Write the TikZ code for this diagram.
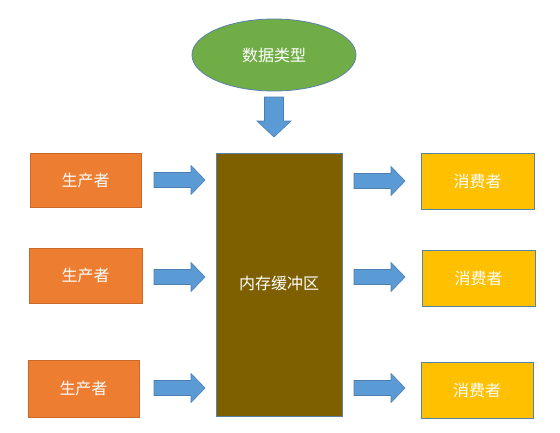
\documentclass[tikz,border=0pt]{standalone}
\usepackage{fontspec}
\newfontfamily\cjk{Noto Sans CJK SC}
\usetikzlibrary{shapes.geometric}
\definecolor{prodfill}{HTML}{ED7D31}
\definecolor{prodline}{HTML}{C8692A}
\definecolor{consfill}{HTML}{FFC000}
\definecolor{blueline}{HTML}{5A82A8}
\definecolor{buffill}{HTML}{7F6000}
\definecolor{ellfill}{HTML}{70AD47}
\definecolor{arrfill}{HTML}{5B9BD5}
\definecolor{arrline}{HTML}{4A7FB0}
\newcommand{\rblockarrow}[3]{%
  \draw[blockarrow] (#2,#3-7.5) -- (#2+37,#3-7.5) -- (#2+37,#3-14.5) -- (#2+51,#3) -- (#2+37,#3+14.5) -- (#2+37,#3+7.5) -- (#2,#3+7.5) -- cycle;
  \coordinate (#1) at (#2+25.5,#3);}
\begin{document}
\begin{tikzpicture}[x=1pt,y=-1pt,
  txt/.style={text=white,font=\cjk\fontsize{16}{19}\selectfont},
  prodbox/.style={txt,draw=prodline,fill=prodfill,line width=0.8pt},
  consbox/.style={txt,draw=blueline,fill=consfill,line width=0.8pt},
  blockarrow/.style={draw=arrline,fill=arrfill,line width=0.6pt}]
\useasboundingbox (0,0) rectangle (560,432);
\fill[white] (0,0) rectangle (560,432);
% ellipse
\node[ellipse,draw=blueline,fill=ellfill,line width=0.8pt,minimum width=164pt,minimum height=72pt,inner sep=0pt,txt] (dtype) at (274,55) {数据类型};
% down arrow
\draw[blockarrow] (264.5,97) -- (283.5,97) -- (283.5,121) -- (291,121) -- (274,137) -- (257,121) -- (264.5,121) -- cycle;
\coordinate (down) at (274,117);
% buffer
\path[draw=blueline,fill=buffill,line width=0.8pt] (216,153) rectangle (342,416);
\node[txt] (buf) at (279,283) {内存缓冲区};
% producers
\draw[prodbox] (30,153) rectangle (141,207);
\node[txt] (p1) at (85.5,180) {生产者};
\draw[prodbox] (29,248) rectangle (142,303);
\node[txt] (p2) at (85.5,275.5) {生产者};
\draw[prodbox] (28,360) rectangle (139,417);
\node[txt] (p3) at (83.5,388.5) {生产者};
% consumers
\draw[consbox] (421,153) rectangle (534,209);
\node[txt] (c1) at (477.5,181) {消费者};
\draw[consbox] (422,250) rectangle (535,306);
\node[txt] (c2) at (478.5,278) {消费者};
\draw[consbox] (421,362) rectangle (533,418);
\node[txt] (c3) at (477,390) {消费者};
% arrows
\rblockarrow{la1}{154}{180}
\rblockarrow{la2}{154}{277}
\rblockarrow{la3}{154}{388}
\rblockarrow{ra1}{354}{181}
\rblockarrow{ra2}{354}{277}
\rblockarrow{ra3}{354}{388}
\end{tikzpicture}
\end{document}
